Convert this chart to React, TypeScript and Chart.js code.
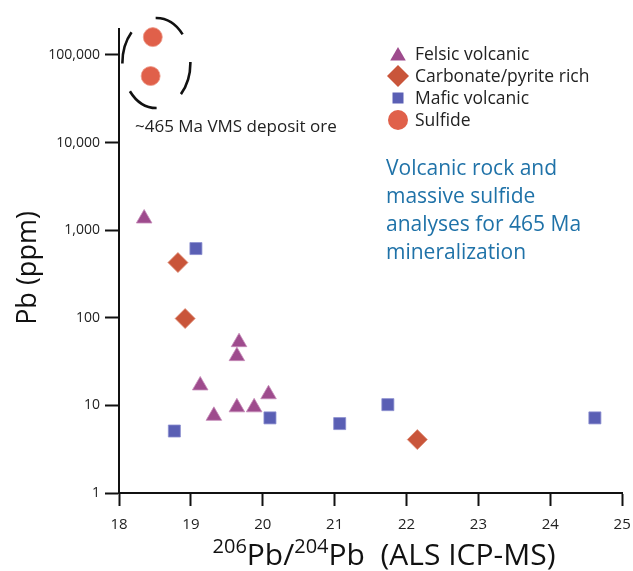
import React, { useEffect, useRef } from 'react';
import { Chart, registerables } from 'chart.js';

Chart.register(...registerables);

// ---- data ----
const felsicX = [18.35, 19.67, 19.64, 19.13, 20.08, 19.64, 19.88, 19.32];
const felsicY = [1360, 52.7, 36.5, 16.9, 13.4, 9.5, 9.5, 7.6];
const carbonateX = [18.82, 18.92, 22.15];
const carbonateY = [427, 98, 4.07];
const maficX = [19.07, 18.77, 20.1, 21.07, 21.74, 24.62];
const maficY = [617, 5.1, 7.2, 6.2, 10.2, 7.2];
const sulfideX = [18.47, 18.44];
const sulfideY = [160000, 57500];

const xTickValues = [18, 19, 20, 21, 22, 23, 24, 25];
const yTickValues = [1, 10, 100, 1000, 10000, 100000];
const yTickLabels = ['1', '10', '100', '1,000', '10,000', '100,000'];

const seriesNames = ['Felsic volcanic', 'Carbonate/pyrite rich', 'Mafic volcanic', 'Sulfide'];
const noteLines = ['Volcanic rock and', 'massive sulfide', 'analyses for 465 Ma', 'mineralization'];
const oreLabel = '~465 Ma VMS deposit ore';
const yTitle = 'Pb (ppm)';

const FONT = '"Open Sans", "DejaVu Sans", sans-serif';
const C_FELSIC = '#9e4b8d';
const C_CARB = '#c9553a';
const C_MAFIC = '#5a5fb4';
const C_SULF = '#e0604a';

const toPts = (xs: number[], ys: number[]) => xs.map((x, i) => ({ x, y: ys[i] }));

function drawShape(ctx: CanvasRenderingContext2D, shape: string, x: number, y: number, r: number, color: string) {
  ctx.save();
  ctx.fillStyle = color;
  ctx.beginPath();
  if (shape === 'triangle') {
    ctx.moveTo(x, y - r);
    ctx.lineTo(x + r * 0.866, y + r / 2);
    ctx.lineTo(x - r * 0.866, y + r / 2);
    ctx.closePath();
  } else if (shape === 'rectRot') {
    ctx.moveTo(x, y - r);
    ctx.lineTo(x + r, y);
    ctx.lineTo(x, y + r);
    ctx.lineTo(x - r, y);
    ctx.closePath();
  } else if (shape === 'rect') {
    ctx.rect(x - r, y - r, 2 * r, 2 * r);
  } else {
    ctx.arc(x, y, r, 0, Math.PI * 2);
  }
  ctx.fill();
  ctx.restore();
}

const overlayPlugin = {
  id: 'overlay',
  afterDraw(chart: any) {
    const ctx: CanvasRenderingContext2D = chart.ctx;
    const xs = chart.scales.x;
    const ys = chart.scales.y;

    // dashed ellipse around sulfide ore samples
    const cx = xs.getPixelForValue(18.52);
    const cy = ys.getPixelForValue(81000);
    ctx.save();
    ctx.strokeStyle = '#111';
    ctx.lineWidth = 2.6;
    ctx.setLineDash([33, 29]);
    ctx.lineDashOffset = 0;
    ctx.beginPath();
    ctx.ellipse(cx, cy, 34, 45, 0, 0, Math.PI * 2);
    ctx.stroke();
    ctx.restore();

    // ore label
    ctx.save();
    ctx.fillStyle = '#222';
    ctx.font = `17px ${FONT}`;
    ctx.textBaseline = 'alphabetic';
    ctx.textAlign = 'left';
    ctx.fillText(oreLabel, 135, 132);
    ctx.restore();

    // blue note
    ctx.save();
    ctx.fillStyle = '#1f72a8';
    ctx.font = `21px ${FONT}`;
    ctx.textAlign = 'left';
    ctx.textBaseline = 'alphabetic';
    noteLines.forEach((t, i) => ctx.fillText(t, 386, 175 + i * 28));
    ctx.restore();

    // legend
    const shapes = [
      ['triangle', C_FELSIC, 9],
      ['rectRot', C_CARB, 11],
      ['rect', C_MAFIC, 5.5],
      ['circle', C_SULF, 10],
    ] as const;
    const rowY = [54, 76, 98, 120];
    ctx.save();
    shapes.forEach((s, i) => {
      const yy = s[0] === 'triangle' ? rowY[i] + 2 : rowY[i];
      drawShape(ctx, s[0], 398, yy, s[2], s[1]);
      ctx.fillStyle = '#222';
      ctx.font = `17.5px ${FONT}`;
      ctx.textAlign = 'left';
      ctx.textBaseline = 'middle';
      ctx.fillText(seriesNames[i], 415, rowY[i] + 1);
    });
    ctx.restore();

    // y axis title
    ctx.save();
    ctx.fillStyle = '#111';
    ctx.font = `27px ${FONT}`;
    ctx.textAlign = 'center';
    ctx.textBaseline = 'middle';
    ctx.translate(28, 268);
    ctx.rotate(-Math.PI / 2);
    ctx.fillText(yTitle, 0, 0);
    ctx.restore();

    // x axis title with superscripts
    ctx.save();
    ctx.fillStyle = '#111';
    ctx.textBaseline = 'alphabetic';
    ctx.textAlign = 'left';
    const big = `30px ${FONT}`;
    const small = `20px ${FONT}`;
    const parts: [string, string, number][] = [
      ['206', small, -12],
      ['Pb/', big, 0],
      ['204', small, -12],
      ['Pb  (ALS ICP-MS)', big, 0],
    ];
    let total = 0;
    parts.forEach((p) => {
      ctx.font = p[1];
      total += ctx.measureText(p[0]).width;
    });
    let px = 384 - total / 2;
    parts.forEach((p) => {
      ctx.font = p[1];
      ctx.fillText(p[0], px, 565 + p[2]);
      px += ctx.measureText(p[0]).width;
    });
    ctx.restore();
  },
};

export default function App() {
  const ref = useRef<HTMLCanvasElement | null>(null);

  useEffect(() => {
    if (!ref.current) return;
    const chart = new Chart(ref.current, {
      type: 'scatter',
      data: {
        datasets: [
          {
            label: seriesNames[0],
            data: toPts(felsicX, felsicY),
            pointStyle: 'triangle',
            pointRadius: 9,
            backgroundColor: C_FELSIC,
            borderColor: '#c58ab8',
            borderWidth: 0.8,
          },
          {
            label: seriesNames[1],
            data: toPts(carbonateX, carbonateY),
            pointStyle: 'rectRot',
            pointRadius: 10,
            backgroundColor: C_CARB,
            borderColor: '#dd8a74',
            borderWidth: 0.8,
          },
          {
            label: seriesNames[2],
            data: toPts(maficX, maficY),
            pointStyle: 'rect',
            pointRadius: 8.5,
            backgroundColor: C_MAFIC,
            borderColor: '#8a8ecf',
            borderWidth: 0.8,
          },
          {
            label: seriesNames[3],
            data: toPts(sulfideX, sulfideY),
            pointStyle: 'circle',
            pointRadius: 9.5,
            backgroundColor: C_SULF,
            borderColor: '#ee9a8a',
            borderWidth: 0.8,
          },
        ],
      },
      options: {
        responsive: false,
        animation: false,
        clip: false as any,
        layout: { padding: { top: 29, right: 9, left: 0, bottom: 0 } },
        plugins: {
          legend: { display: false },
          tooltip: { enabled: false },
        },
        scales: {
          x: {
            type: 'linear',
            min: 18,
            max: 25,
            afterBuildTicks: (s: any) => {
              s.ticks = xTickValues.map((v) => ({ value: v }));
            },
            afterFit: (s: any) => {
              s.height = 78;
              s.paddingLeft = 0;
              s.paddingRight = 0;
            },
            grid: {
              display: true,
              drawOnChartArea: false,
              drawTicks: true,
              tickLength: 13,
              tickWidth: 2,
              tickColor: '#111',
            },
            border: { display: true, color: '#111', width: 2 },
            ticks: {
              color: '#222',
              font: { family: FONT, size: 15 },
              padding: 10,
              maxRotation: 0,
              autoSkip: false,
              callback: (v: any) => String(v),
            },
          },
          y: {
            type: 'logarithmic',
            min: 1,
            max: 198000,
            afterBuildTicks: (s: any) => {
              s.ticks = yTickValues.map((v) => ({ value: v }));
            },
            afterFit: (s: any) => {
              s.width = 119;
              s.paddingTop = 0;
              s.paddingBottom = 0;
            },
            grid: {
              display: true,
              drawOnChartArea: false,
              drawTicks: true,
              tickLength: 14,
              tickWidth: 2,
              tickColor: '#111',
            },
            border: { display: true, color: '#111', width: 2 },
            ticks: {
              color: '#222',
              font: { family: FONT, size: 14 },
              padding: 5,
              autoSkip: false,
              callback: (v: any) => {
                const i = yTickValues.indexOf(Number(v));
                return i >= 0 ? yTickLabels[i] : '';
              },
            },
          },
        },
      },
      plugins: [overlayPlugin],
    });
    return () => chart.destroy();
  }, []);

  return (
    <div style={{ position: 'fixed', left: 0, top: 0, width: 633, height: 571, background: '#fff' }}>
      <canvas ref={ref} width={633} height={571} style={{ display: 'block' }} />
    </div>
  );
}
